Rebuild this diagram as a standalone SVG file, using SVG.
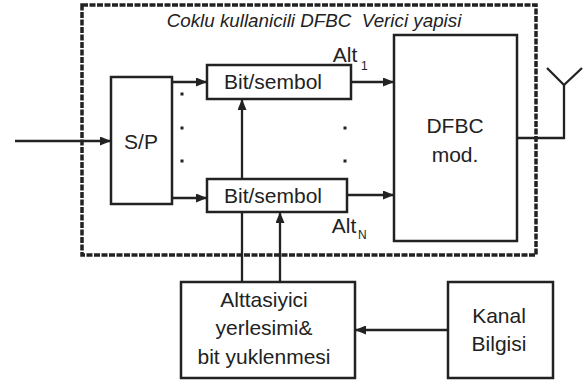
<svg xmlns="http://www.w3.org/2000/svg" width="583" height="385" viewBox="0 0 583 385">
<style>
.box{fill:#fff;stroke:#222;stroke-width:2.5}
.ln{fill:none;stroke:#222;stroke-width:2.3}
.t{font-family:"Liberation Sans",Arial,sans-serif;font-size:21px;fill:#222;text-anchor:middle}
.sub{font-family:"Liberation Sans",Arial,sans-serif;font-size:12px;fill:#222}
.dot{fill:#222}
</style>
<defs>
<marker id="ah" viewBox="0 0 11 9" refX="11" refY="4.5" markerWidth="11" markerHeight="9" markerUnits="userSpaceOnUse" orient="auto">
<path d="M0,0 L11,4.5 L0,9 z" fill="#222"/>
</marker>
</defs>
<g id="frame">
<rect x="82" y="5" width="454" height="250" fill="none" stroke="#222" stroke-width="3.5" stroke-dasharray="6 1.5"/>
<text x="314" y="27" class="t" style="font-style:italic;font-size:18.8px" xml:space="preserve">Coklu kullanicili DFBC  Verici yapisi</text>
</g>
<g id="connectors">
<line class="ln" x1="15" y1="141" x2="111" y2="141" marker-end="url(#ah)"/>
<line class="ln" x1="172" y1="82" x2="207" y2="82" marker-end="url(#ah)"/>
<line class="ln" x1="172" y1="198" x2="207" y2="198" marker-end="url(#ah)"/>
<line class="ln" x1="351" y1="82" x2="394" y2="82" marker-end="url(#ah)"/>
<line class="ln" x1="347" y1="195" x2="394" y2="195" marker-end="url(#ah)"/>
<line class="ln" x1="242" y1="282" x2="242" y2="99" marker-end="url(#ah)"/>
<line class="ln" x1="280" y1="282" x2="280" y2="212" marker-end="url(#ah)"/>
<line class="ln" x1="448" y1="330" x2="355" y2="330" marker-end="url(#ah)"/>
<polyline class="ln" points="517,138 564,138 564,85"/>
<polyline class="ln" points="547,68 564,85 582,68"/>
</g>
<g id="dots">
<rect class="dot" x="180.5" y="92.5" width="3" height="3"/>
<rect class="dot" x="180.5" y="126.5" width="3" height="3"/>
<rect class="dot" x="180.5" y="159.5" width="3" height="3"/>
<rect class="dot" x="343.5" y="126.5" width="3" height="3"/>
<rect class="dot" x="343.5" y="159.5" width="3" height="3"/>
</g>
<g id="sp">
<rect class="box" x="111" y="77" width="61" height="127"/>
<text class="t" x="141" y="149">S/P</text>
</g>
<g id="bit1">
<rect class="box" x="207" y="65" width="144" height="34"/>
<text class="t" x="273" y="89">Bit/sembol</text>
</g>
<g id="bitN">
<rect class="box" x="207" y="179" width="140" height="33"/>
<text class="t" x="273" y="203">Bit/sembol</text>
</g>
<g id="alt1">
<text class="t" x="345" y="62">Alt</text>
<text class="sub" x="361" y="70">1</text>
</g>
<g id="altN">
<text class="t" x="344" y="233">Alt</text>
<text class="sub" x="358" y="239">N</text>
</g>
<g id="dfbc">
<rect class="box" x="394" y="35" width="123" height="206"/>
<text class="t" x="455" y="133">DFBC</text>
<text class="t" x="455" y="162">mod.</text>
</g>
<g id="alloc">
<rect class="box" x="181" y="282" width="174" height="96"/>
<text class="t" x="264" y="307">Alttasiyici</text>
<text class="t" x="264" y="335">yerlesimi&amp;</text>
<text class="t" x="264" y="364">bit yuklenmesi</text>
</g>
<g id="kanal">
<rect class="box" x="448" y="282" width="105" height="96"/>
<text class="t" x="499" y="323">Kanal</text>
<text class="t" x="499" y="351">Bilgisi</text>
</g>
</svg>
